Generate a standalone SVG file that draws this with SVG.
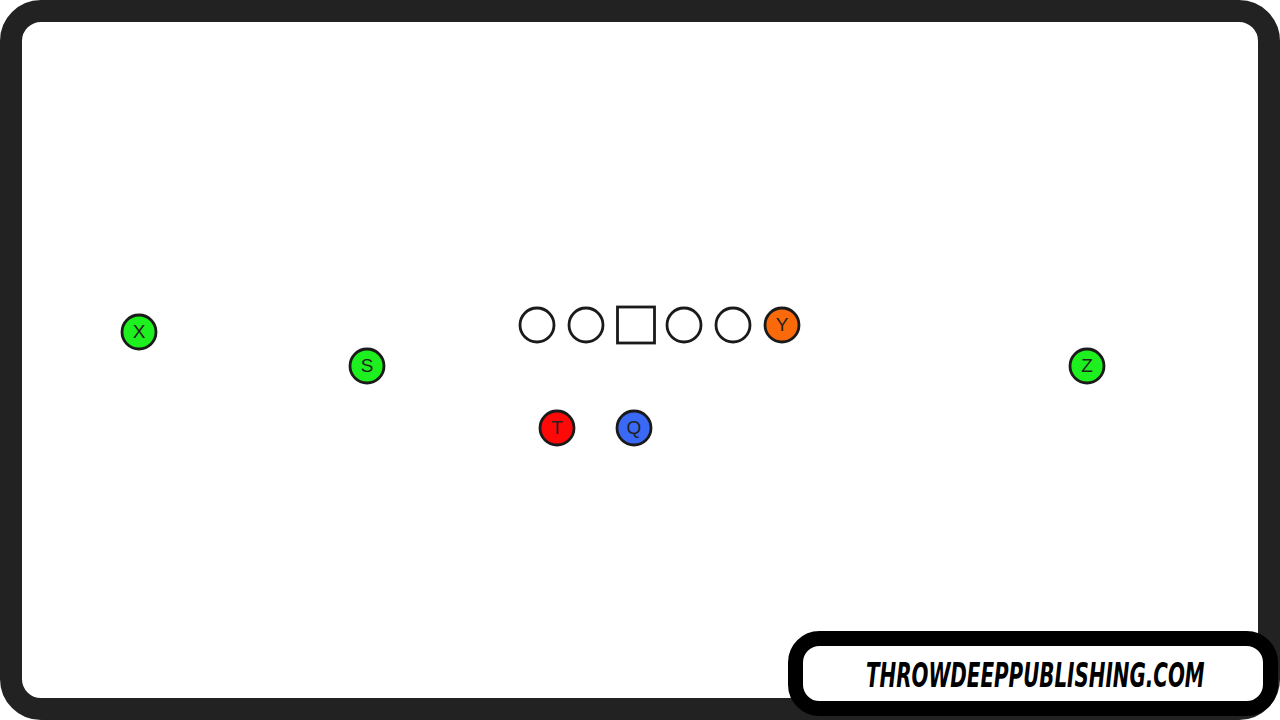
<svg xmlns="http://www.w3.org/2000/svg" width="1280" height="720" viewBox="0 0 1280 720">
<style>
.p{stroke:#1a1a1a;stroke-width:2.8}
.lbl{font-family:"Liberation Sans",Arial,sans-serif;font-size:19px;fill:#222;text-anchor:middle;dominant-baseline:central}
</style>
<rect x="0" y="0" width="1280" height="720" fill="#ffffff"/>
<rect x="11" y="11" width="1258" height="698" rx="30" fill="#ffffff" stroke="#222222" stroke-width="22"/>
<g id="X"><circle class="p" cx="139" cy="332" r="17" fill="#1eef1e"/><text class="lbl" x="139" y="331">X</text></g>
<g id="S"><circle class="p" cx="367" cy="366" r="17" fill="#1eef1e"/><text class="lbl" x="367" y="365">S</text></g>
<g id="LT"><circle class="p" cx="537" cy="325" r="17" fill="#ffffff"/></g>
<g id="LG"><circle class="p" cx="586" cy="325" r="17" fill="#ffffff"/></g>
<g id="C"><rect class="p" x="617.5" y="307" width="37" height="36" fill="#ffffff"/></g>
<g id="RG"><circle class="p" cx="684" cy="325" r="17" fill="#ffffff"/></g>
<g id="RT"><circle class="p" cx="733" cy="325" r="17" fill="#ffffff"/></g>
<g id="Y"><circle class="p" cx="782" cy="325" r="17" fill="#fa6a0a"/><text class="lbl" x="782" y="324">Y</text></g>
<g id="T"><circle class="p" cx="557" cy="428" r="17" fill="#ff0808"/><text class="lbl" x="557" y="427">T</text></g>
<g id="Q"><circle class="p" cx="634" cy="428" r="17" fill="#3a6af5"/><text class="lbl" x="634" y="427">Q</text></g>
<g id="Z"><circle class="p" cx="1087" cy="366" r="17" fill="#1eef1e"/><text class="lbl" x="1087" y="365">Z</text></g>
<g id="connectors"></g>
<g id="badge">
<rect x="795.5" y="638.5" width="475" height="70" rx="24" fill="#ffffff" stroke="#000000" stroke-width="15"/>
<text transform="translate(866,687) scale(0.68,1)" x="0" y="0" font-family="'DejaVu Sans Condensed','DejaVu Sans',sans-serif" font-weight="bold" font-style="italic" font-size="34" fill="#000000" textLength="498" lengthAdjust="spacingAndGlyphs">THROWDEEPPUBLISHING.COM</text>
</g>
</svg>
